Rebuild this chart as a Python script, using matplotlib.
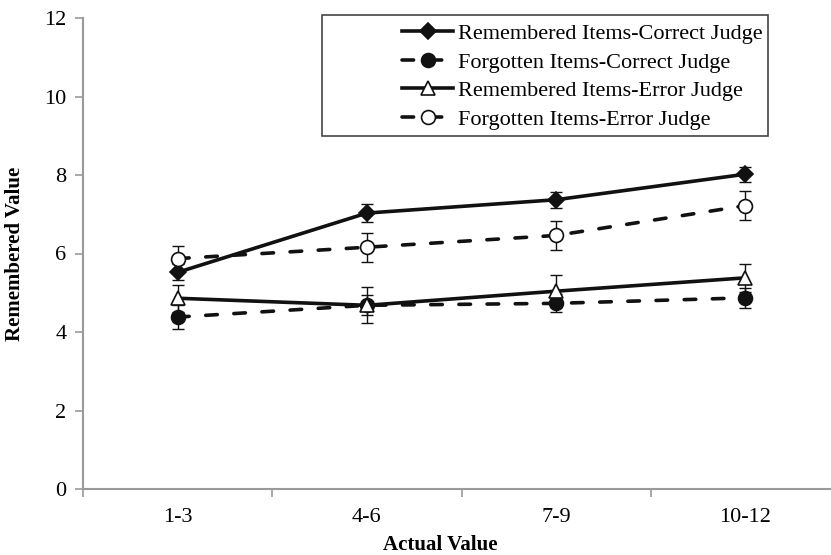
import matplotlib
matplotlib.use("Agg")
import matplotlib.pyplot as plt
from matplotlib.patches import Rectangle
import numpy as np

plt.rcParams["font.family"] = ["Liberation Serif", "DejaVu Serif"]

# ---------------------------------------------------------------------------
# Data: mean remembered value per actual-value bin, with error bars
# ---------------------------------------------------------------------------
categories = ["1-3", "4-6", "7-9", "10-12"]

rem_correct = [5.52, 7.03, 7.37, 8.02]
rem_correct_err = [0.20, 0.22, 0.20, 0.19]

forg_correct = [4.38, 4.68, 4.73, 4.87]
forg_correct_err = [0.30, 0.25, 0.23, 0.25]

rem_error = [4.86, 4.68, 5.04, 5.38]
rem_error_err = [0.34, 0.46, 0.40, 0.35]

forg_error = [5.87, 6.16, 6.46, 7.22]
forg_error_err = [0.33, 0.37, 0.36, 0.37]

series = [
    ("Remembered Items-Correct Judge", rem_correct, rem_correct_err, "-", "D", "#111111", 8.5),
    ("Forgotten Items-Correct Judge", forg_correct, forg_correct_err, "--", "o", "#111111", 10),
    ("Remembered Items-Error Judge", rem_error, rem_error_err, "-", "^", "white", 10.5),
    ("Forgotten Items-Error Judge", forg_error, forg_error_err, "--", "o", "white", 10),
]

ink = "#111111"
axis_gray = "#9a9a9a"

fig = plt.figure(figsize=(8.31, 5.55), dpi=100)
ax = fig.add_axes([83 / 831, 1 - 489 / 555, (840 - 83) / 831, (489 - 18) / 555])

x = np.arange(len(categories))
handles = []
for label, vals, err, ls, mk, face, ms in series:
    ax.errorbar(x, vals, yerr=err, fmt="none", ecolor=ink, elinewidth=1.0,
                capsize=4, capthick=1.0, zorder=2)
    h, = ax.plot(x, vals, linestyle=ls, color=ink, linewidth=2.6,
                 marker=mk, markersize=ms, markerfacecolor=face,
                 markeredgecolor=ink, markeredgewidth=1.2,
                 dashes=(3.2, 4.6) if ls == "--" else (None, None),
                 dash_capstyle="round",
                 label=label, zorder=3)
    handles.append(h)

ax.set_xlim(-0.5, len(categories) - 0.5)
ax.set_ylim(0, 12)
ax.set_yticks(np.arange(0, 13, 2))

# boundaries between bins carry the tick marks, bin centres carry the labels
ax.set_xticks(np.arange(-0.5, len(categories), 1.0))
ax.set_xticklabels([])
ax.set_xticks(x, minor=True)
ax.set_xticklabels(categories, minor=True)
ax.tick_params(axis="x", which="major", direction="out", length=6, color=axis_gray, width=1.2)
ax.tick_params(axis="x", which="minor", length=0, pad=14, labelsize=16)
ax.tick_params(axis="y", direction="out", length=6, color=axis_gray, width=1.2, labelsize=16, pad=6)

for side in ("top", "right"):
    ax.spines[side].set_visible(False)
for side in ("left", "bottom"):
    ax.spines[side].set_color(axis_gray)
    ax.spines[side].set_linewidth(1.5)

ax.set_xlabel("Actual Value", fontsize=15, fontweight="bold", va="center")
ax.set_ylabel("Remembered Value", fontsize=15, fontweight="bold")
ax.xaxis.set_label_coords((440 - 83) / 757, (489 - 545) / 471)
ax.yaxis.set_label_coords((25 - 83) / 757, 0.5)

# legend box with the entries pushed to its right side
fig.patches.append(Rectangle((322 / 831, 1 - 136 / 555), (768 - 322) / 831, (136 - 15) / 555,
                             transform=fig.transFigure, facecolor="white",
                             edgecolor="#444444", linewidth=1.2, zorder=4))
leg = fig.legend(handles=handles, loc="upper right",
                 bbox_to_anchor=(767 / 831, 1 - 19 / 555),
                 frameon=False, fontsize=16, handlelength=2.3,
                 handletextpad=0.2, labelspacing=0.36, borderaxespad=0,
                 borderpad=0.2)
leg.set_zorder(5)

fig.savefig("out.png", dpi=100, facecolor="white")
